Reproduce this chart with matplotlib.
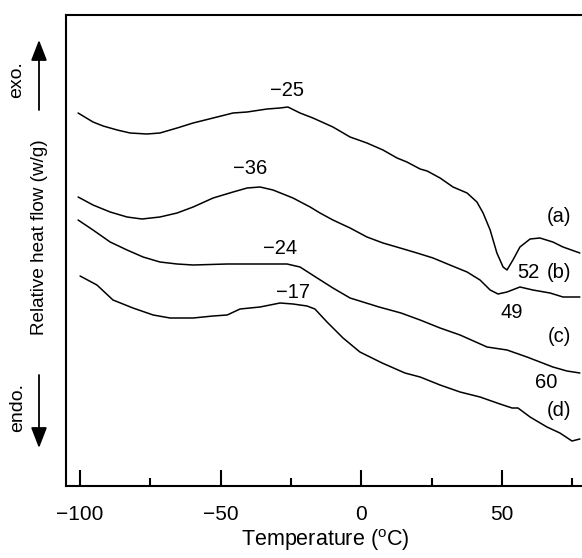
import matplotlib
matplotlib.use("Agg")
import matplotlib.pyplot as plt
from matplotlib.patches import FancyArrowPatch
from matplotlib.ticker import FixedLocator

plt.rcParams['font.family'] = ['Liberation Sans', 'DejaVu Sans']

# ---- data (relative heat flow in arbitrary units) ----
temp_a = [-100.7, -95.4, -91.8, -86.8, -82.2, -76.2, -71.6, -65.5, -59.8, -52.7, -45.6,
          -40.6, -33.5, -28.9, -26.1, -21.8, -17.2, -10.1, -4.0, 2.0, 7.7, 12.7, 16.2,
          20.9, 23.4, 28.0, 32.6, 37.6, 41.1, 43.3, 45.8, 48.2, 50.4, 51.8, 53.9, 56.4,
          60.0, 63.5, 68.1, 71.7, 77.7]
flow_a = [37.3, 36.4, 36.0, 35.6, 35.3, 35.2, 35.3, 35.8, 36.3, 36.8, 37.3,
          37.4, 37.7, 37.8, 37.9, 37.3, 36.8, 35.9, 34.9, 34.3, 33.6, 32.8, 32.4,
          31.7, 31.5, 30.8, 29.9, 29.3, 28.4, 27.3, 25.6, 23.3, 21.9, 21.6, 22.6, 23.9,
          24.7, 24.8, 24.4, 23.9, 23.3]

temp_b = [-100.7, -95.4, -89.3, -83.3, -78.0, -71.6, -65.5, -59.8, -52.7, -45.6, -40.6,
          -36.0, -31.4, -24.3, -18.2, -14.7, -10.1, -4.0, 2.0, 7.7, 13.8, 19.8, 25.5,
          31.5, 37.6, 42.2, 45.8, 48.6, 51.8, 56.4, 61.0, 67.1, 71.7, 77.7]
flow_b = [28.9, 28.1, 27.4, 26.9, 26.7, 26.9, 27.3, 27.9, 28.8, 29.4, 29.8,
          29.9, 29.6, 28.8, 27.9, 27.3, 26.6, 25.8, 24.9, 24.3, 23.8, 23.3, 22.8,
          22.1, 21.4, 20.6, 19.6, 19.2, 19.4, 19.9, 19.6, 19.3, 18.9, 18.9]

temp_c = [-100.7, -95.4, -89.3, -83.3, -77.6, -71.6, -65.5, -59.8, -47.7, -36.0, -26.4,
          -21.8, -15.7, -10.1, -4.0, 6.3, 14.1, 20.9, 28.0, 35.1, 44.7, 51.8, 58.9,
          63.5, 68.1, 73.1, 77.7]
flow_c = [26.6, 25.6, 24.4, 23.6, 22.9, 22.4, 22.2, 22.1, 22.2, 22.2, 22.2,
          21.9, 20.8, 19.8, 18.8, 17.9, 17.3, 16.6, 15.8, 15.1, 13.9, 13.6, 12.9,
          12.4, 11.9, 11.5, 11.3]

temp_d = [-100.0, -94.0, -88.3, -81.2, -74.0, -68.0, -59.8, -52.7, -47.7, -43.1, -36.0,
          -28.9, -24.3, -19.3, -16.5, -12.2, -6.5, -0.5, 7.4, 15.5, 20.9, 28.0, 35.1,
          42.2, 49.3, 53.6, 55.7, 60.0, 66.0, 70.6, 74.9, 77.7]
flow_d = [21.0, 20.1, 18.6, 17.8, 17.1, 16.8, 16.8, 17.0, 17.1, 17.7, 17.9,
          18.3, 18.2, 18.0, 17.7, 16.4, 14.8, 13.4, 12.3, 11.3, 10.9, 10.1, 9.4,
          8.9, 8.2, 7.8, 7.8, 6.9, 5.9, 5.3, 4.5, 4.7]

curve_labels = ['(a)', '(b)', '(c)', '(d)']
peak_labels = ['−25', '−36', '−24', '−17']
extra_labels = ['52', '49', '60']
major_ticks = [-100, -50, 0, 50]
minor_ticks = [-75, -25, 25, 75]

W, H = 582, 558
fig = plt.figure(figsize=(W / 100, H / 100), dpi=100)
left_px, right_px, top_px, bottom_px = 66, 582, 15, 486
ax = fig.add_axes([left_px / W, 1 - bottom_px / H, (right_px - left_px) / W,
                   (bottom_px - top_px) / H])

for t, f in [(temp_a, flow_a), (temp_b, flow_b), (temp_c, flow_c), (temp_d, flow_d)]:
    ax.plot(t, f, color='black', lw=1.1, solid_joinstyle='round', solid_capstyle='round')

ax.set_xlim(-105.0, 78.46)
ax.set_ylim(0, 47.1)

ax.xaxis.set_major_locator(FixedLocator(major_ticks))
ax.xaxis.set_minor_locator(FixedLocator(minor_ticks))
ax.set_xticklabels([f'{v:d}'.replace('-', '−') for v in major_ticks])
ax.tick_params(axis='x', which='major', direction='in', length=11.5, width=1.5,
               pad=13.5, labelsize=15)
ax.tick_params(axis='x', which='minor', direction='in', length=5.8, width=1.5)
ax.set_yticks([])
for s in ['left', 'top', 'bottom']:
    ax.spines[s].set_linewidth(1.5)
ax.spines['right'].set_visible(False)

fs = 14.5
# peak annotations
ax.text(-26.4, 39.6, peak_labels[0], ha='center', va='center', fontsize=fs)
ax.text(-39.6, 31.7, peak_labels[1], ha='center', va='center', fontsize=fs)
ax.text(-28.9, 23.8, peak_labels[2], ha='center', va='center', fontsize=fs)
ax.text(-24.3, 19.4, peak_labels[3], ha='center', va='center', fontsize=fs)
# curve labels
ax.text(70.3, 26.9, curve_labels[0], ha='center', va='center', fontsize=fs)
ax.text(70.3, 21.3, curve_labels[1], ha='center', va='center', fontsize=fs)
ax.text(70.3, 14.9, curve_labels[2], ha='center', va='center', fontsize=fs)
ax.text(70.3, 7.6, curve_labels[3], ha='center', va='center', fontsize=fs)
ax.text(59.3, 21.3, extra_labels[0], ha='center', va='center', fontsize=fs)
ax.text(53.6, 17.3, extra_labels[1], ha='center', va='center', fontsize=fs)
ax.text(65.7, 10.3, extra_labels[2], ha='center', va='center', fontsize=fs)

# axis labels
fig.text(325 / W, 1 - 540 / H, 'Temperature ($^{\\mathregular{o}}$C)', ha='center',
         va='center', fontsize=15.5)
fig.text(40 / W, 1 - 237 / H, 'Relative heat flow (w/g)', rotation=90, ha='center',
         va='center', fontsize=13.6)
fig.text(17 / W, 1 - 80 / H, 'exo.', rotation=90, ha='center', va='center', fontsize=14)
fig.text(18 / W, 1 - 407 / H, 'endo.', rotation=90, ha='center', va='center', fontsize=14)

arrow_kw = dict(arrowstyle='-|>,head_length=0.9,head_width=0.35', color='black', lw=1.3,
                shrinkA=0, shrinkB=0, mutation_scale=14)
fig.add_artist(FancyArrowPatch((39 / W, 1 - 110 / H), (39 / W, 1 - 40 / H),
                               transform=fig.transFigure, **arrow_kw))
fig.add_artist(FancyArrowPatch((39 / W, 1 - 375 / H), (39 / W, 1 - 448 / H),
                               transform=fig.transFigure, **arrow_kw))

fig.savefig('out.png', dpi=100)
